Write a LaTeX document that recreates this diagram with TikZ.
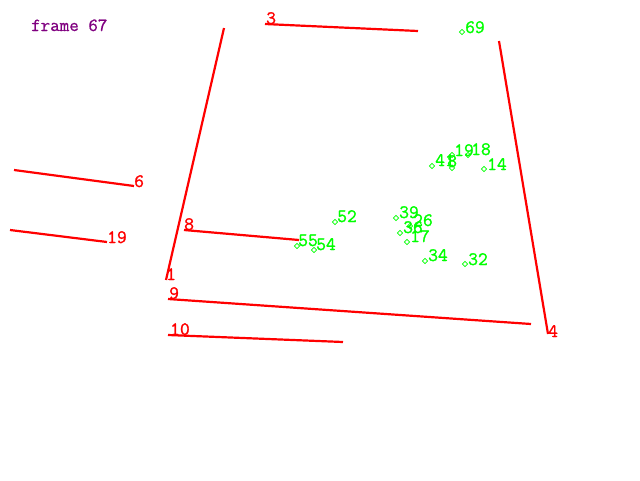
\documentclass[tikz,border=0pt]{standalone}
\usepackage{fontspec}
\newfontfamily\labfont[FakeBold=1.3]{Latin Modern Mono}
\newfontfamily\titlefont[FakeBold=0.8]{Latin Modern Mono}
\usetikzlibrary{shapes.geometric}
\definecolor{segred}{RGB}{255,0,0}
\definecolor{ptgreen}{RGB}{0,255,0}
\definecolor{framepurple}{RGB}{128,0,128}
\tikzset{
  seg/.style={draw=segred, line width=2.2pt},
  seglabel/.style={text=segred, anchor=base west, inner sep=0pt, font=\labfont\fontsize{19}{21}\selectfont},
  ptmark/.style={diamond, draw=ptgreen, line width=0.8pt, minimum size=5.5pt, inner sep=0pt},
  ptlabel/.style={text=ptgreen, anchor=base west, inner sep=0pt, font=\labfont\fontsize{19}{21}\selectfont},
}
\begin{document}
\begin{tikzpicture}[x=1pt,y=-1pt]
\useasboundingbox (0,0) rectangle (640,480);
\fill[white] (0,0) rectangle (640,480);
\node[text=framepurple, anchor=base west, inner sep=0pt, font=\titlefont\fontsize{18.5}{20}\selectfont] (title) at (31,31) {frame 67};

% red segments
\coordinate (s3a) at (265,24);  \coordinate (s3b) at (418,31);
\coordinate (s1a) at (224,28);  \coordinate (s1b) at (166,280);
\coordinate (s4a) at (499,41);  \coordinate (s4b) at (548,334);
\coordinate (s6a) at (14,170);  \coordinate (s6b) at (134,186);
\coordinate (s19a) at (10,230); \coordinate (s19b) at (107,242);
\coordinate (s8a) at (184,230); \coordinate (s8b) at (299,240);
\coordinate (s9a) at (168,299); \coordinate (s9b) at (531,324);
\coordinate (s10a) at (168,335); \coordinate (s10b) at (343,342);
\draw[seg] (s3a) -- (s3b);
\draw[seg] (s1a) -- (s1b);
\draw[seg] (s4a) -- (s4b);
\draw[seg] (s6a) -- (s6b);
\draw[seg] (s19a) -- (s19b);
\draw[seg] (s8a) -- (s8b);
\draw[seg] (s9a) -- (s9b);
\draw[seg] (s10a) -- (s10b);
\node[seglabel] (t3) at (266,24) {3};
\node[seglabel] (t1) at (166,280) {1};
\node[seglabel] (t4) at (548,337) {4};
\node[seglabel] (t6) at (134,187) {6};
\node[seglabel] (t19) at (107,243) {19};
\node[seglabel] (t8) at (184,230) {8};
\node[seglabel] (t9) at (169,299) {9};
\node[seglabel] (t10) at (170,335) {10};

% green points
\node[ptmark] (p69) at (462,32) {};
\node[ptlabel] (l69) at (465,33) {69};
\node[ptmark] (p41) at (432,166) {};
\node[ptlabel] (l41) at (435,166) {41};
\node[ptmark] (p8) at (452,168) {};
\node[ptlabel] (l8) at (447,167) {8};
\node[ptmark] (p19) at (452,155) {};
\node[ptlabel] (l19) at (454,156) {19};
\node[ptmark] (p18) at (468,155) {};
\node[ptlabel] (l18) at (471,155) {18};
\node[ptmark] (p14) at (484,169) {};
\node[ptlabel] (l14) at (487,170) {14};
\node[ptmark] (p52) at (335,222) {};
\node[ptlabel] (l52) at (337,222) {52};
\node[ptmark] (p55) at (297,246) {};
\node[ptlabel] (l55) at (298,246) {55};
\node[ptmark] (p54) at (314,250) {};
\node[ptlabel] (l54) at (316,250) {54};
\node[ptmark] (p39) at (396,218) {};
\node[ptlabel] (l39) at (399,218) {39};
\node[ptmark] (p26) at (410,226) {};
\node[ptlabel] (l26) at (413,226) {26};
\node[ptmark] (p36) at (400,233) {};
\node[ptlabel] (l36) at (403,233) {36};
\node[ptmark] (p17) at (407,242) {};
\node[ptlabel] (l17) at (410,242) {17};
\node[ptmark] (p34) at (425,261) {};
\node[ptlabel] (l34) at (428,261) {34};
\node[ptmark] (p32) at (465,264) {};
\node[ptlabel] (l32) at (468,265) {32};
\end{tikzpicture}
\end{document}
